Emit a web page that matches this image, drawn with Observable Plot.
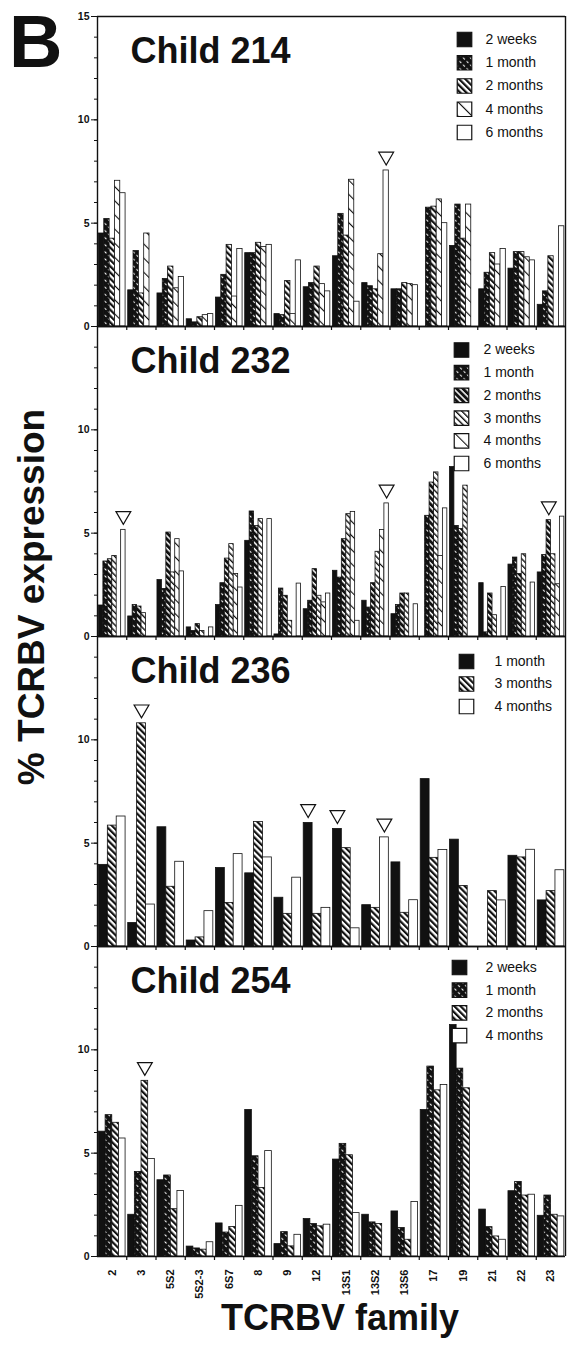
<!DOCTYPE html>
<html><head><meta charset="utf-8">
<script src="https://cdn.jsdelivr.net/npm/d3@7"></script>
<script src="https://cdn.jsdelivr.net/npm/@observablehq/plot@0.6"></script>
<style>
body{margin:0;background:#fff;}
#wrap{position:relative;width:568px;height:1345px;overflow:hidden;font-family:"Liberation Sans",Arial,Helvetica,sans-serif;}
#chart{position:absolute;left:0;top:0;}
.ov{position:absolute;white-space:nowrap;font-weight:bold;line-height:1;color:#111;}
</style></head><body>
<svg width="0" height="0" style="position:absolute">
<defs>
<pattern id="pDash" patternUnits="userSpaceOnUse" width="5" height="5" patternTransform="rotate(-45)">
<rect width="5" height="5" fill="#111"/><rect x="2" y="0.5" width="1.1" height="2.4" fill="#fff"/>
</pattern>
<pattern id="pStripe" patternUnits="userSpaceOnUse" width="4.4" height="4.4" patternTransform="rotate(-45)">
<rect width="4.4" height="4.4" fill="#fff"/><rect width="2.2" height="4.4" fill="#111"/>
</pattern>
<pattern id="pStripeDark" patternUnits="userSpaceOnUse" width="4.4" height="4.4" patternTransform="rotate(-45)">
<rect width="4.4" height="4.4" fill="#fff"/><rect width="2.9" height="4.4" fill="#111"/>
</pattern>
<pattern id="pStripeLight" patternUnits="userSpaceOnUse" width="4.4" height="4.4" patternTransform="rotate(-45)">
<rect width="4.4" height="4.4" fill="#fff"/><rect width="1.4" height="4.4" fill="#111"/>
</pattern>
<pattern id="pLine" patternUnits="userSpaceOnUse" width="10" height="10" patternTransform="rotate(-45)">
<rect width="10" height="10" fill="#fff"/><rect width="1.1" height="10" fill="#111"/>
</pattern>
</defs></svg>
<div id="wrap">
<div id="chart"></div>
<div class="ov" style="left:9px;top:5px;font-size:74px">B</div>
<div class="ov" style="left:0;top:0;font-size:37px;transform-origin:0 0;transform:translate(12.7px,597px) rotate(-90deg) translate(-50%,0)">% TCRBV expression</div>
<div class="ov" style="left:340px;top:1300px;font-size:36px;transform:translateX(-50%)">TCRBV family</div>
</div>
<script>
const families = ["2","3","5S2","5S2-3","6S7","8","9","12","13S1","13S2","13S6","17","19","21","22","23"];
const panels = ["214","232","236","254"];

// Child 214
const series214 = ["2 weeks","1 month","2 months","4 months","6 months"];
const c214_2wk = [4.5,1.75,1.6,0.35,1.4,3.55,0.6,1.9,3.4,2.1,1.8,null,3.9,1.8,2.8,1.05];
const c214_1mo = [5.2,3.65,2.3,0.2,2.5,3.55,0.55,2.1,5.45,1.95,1.8,5.75,5.9,2.6,3.6,1.7];
const c214_2mo = [4.25,1.6,2.9,0.45,3.95,4.05,2.2,2.9,4.4,1.8,2.1,5.8,4.25,3.55,3.6,3.4];
const c214_4mo = [7.05,4.5,1.85,0.55,1.45,3.85,0.6,2.05,7.1,3.5,2.05,6.15,5.9,3.0,3.35,null];
const c214_6mo = [6.45,null,2.4,0.6,3.75,3.95,3.2,1.7,1.2,7.55,2.0,5.0,null,3.75,3.2,4.85];

// Child 232
const series232 = ["2 weeks","1 month","2 months","3 months","4 months","6 months"];
const c232_2wk = [1.5,0.97,2.73,0.44,1.52,4.63,0.1,1.32,3.18,1.73,1.08,null,8.2,2.58,3.48,3.1];
const c232_1mo = [3.63,1.52,2.3,0.27,2.58,6.05,2.32,1.73,2.85,1.4,1.52,5.84,5.35,0.2,3.82,3.94];
const c232_2mo = [3.74,1.45,5.03,0.6,3.77,5.35,1.97,3.26,4.71,2.58,2.08,7.45,5.2,2.08,3.02,5.63];
const c232_3mo = [3.9,1.13,3.1,0.27,4.47,5.68,0.76,1.97,5.92,4.1,2.08,7.94,7.3,1.03,3.98,3.98];
const c232_4mo = [null,null,4.71,null,3.02,null,null,1.65,6.03,5.15,null,3.9,null,null,null,2.53];
const c232_6mo = [5.16,null,3.15,0.44,2.37,5.68,2.56,2.08,0.76,6.44,1.56,6.2,null,2.4,2.61,5.8];

// Child 236
const series236 = ["1 month","3 months","4 months"];
const c236_1mo = [3.95,1.14,5.77,0.29,3.8,3.54,2.36,5.98,5.69,2.0,4.07,8.1,5.17,null,4.39,2.23];
const c236_3mo = [5.85,10.8,2.89,0.44,2.11,6.02,1.58,1.58,4.76,1.87,1.63,4.29,2.93,2.68,4.31,2.68];
const c236_4mo = [6.29,2.03,4.1,1.71,4.47,4.31,3.33,1.87,0.88,5.28,2.24,4.67,null,2.23,4.68,3.69];

// Child 254
const series254 = ["2 weeks","1 month","2 months","4 months"];
const c254_2wk = [6.04,2.02,3.69,0.48,1.6,7.09,0.6,1.81,4.69,2.02,2.18,7.09,11.2,2.27,3.16,1.97];
const c254_1mo = [6.84,4.09,3.92,0.39,1.16,4.85,1.18,1.57,5.45,1.65,1.38,9.19,9.09,1.42,3.61,2.95];
const c254_2mo = [6.47,8.5,2.29,0.33,1.43,3.32,0.49,1.46,4.9,1.57,0.81,8.04,8.14,0.97,2.95,2.02];
const c254_4mo = [5.71,4.72,3.17,0.69,2.45,5.1,1.05,1.54,2.1,null,2.64,8.3,null,0.81,2.99,1.94];

// Flagged expansions (triangles): [child, family, series]
const flagged = [
  ["214","13S2","6 months"],
  ["232","2","6 months"],["232","13S2","6 months"],["232","23","2 months"],
  ["236","3","3 months"],["236","12","1 month"],["236","13S1","1 month"],["236","13S2","4 months"],
  ["254","3","2 months"]
];

// Fill styles per child (same order as series)
const fills214 = ["#111","url(#pDash)","url(#pStripe)","url(#pLine)","#fff"];
const fills232 = ["#111","url(#pDash)","url(#pStripeDark)","url(#pStripeLight)","url(#pLine)","#fff"];
const fills236 = ["#111","url(#pStripe)","#fff"];
const fills254 = ["#111","url(#pDash)","url(#pStripe)","#fff"];

const panelDefs = [
  {panel:"214", series:series214, values:[c214_2wk,c214_1mo,c214_2mo,c214_4mo,c214_6mo], fills:fills214,
   legend:{sx:367, tx:388, y0:23, step:23.25}},
  {panel:"232", series:series232, values:[c232_2wk,c232_1mo,c232_2mo,c232_3mo,c232_4mo,c232_6mo], fills:fills232,
   legend:{sx:364, tx:386, y0:23.5, step:22.7}},
  {panel:"236", series:series236, values:[c236_1mo,c236_3mo,c236_4mo], fills:fills236,
   legend:{sx:369, tx:397, y0:25, step:22.5}},
  {panel:"254", series:series254, values:[c254_2wk,c254_1mo,c254_2mo,c254_4mo], fills:fills254,
   legend:{sx:362, tx:388, y0:21, step:22.7}}
];

const lo = 0.05, hi = 0.96; // occupied fraction of each family band
const rows = [];
for (const p of panelDefs) {
  const n = p.series.length;
  p.series.forEach((s, k) => {
    p.values[k].forEach((v, fi) => {
      if (v == null) return;
      rows.push({panel:p.panel, family:families[fi], fi, k, n, series:s, value:v, fill:p.fills[k]});
    });
  });
}
const slotX1 = d => d.fi + lo + d.k * (hi - lo) / d.n;
const slotX2 = d => d.fi + lo + (d.k + 1) * (hi - lo) / d.n;
const flagRows = flagged.map(([panel, fam, s]) => rows.find(r => r.panel === panel && r.family === fam && r.series === s));

const legendMarks = [];
for (const p of panelDefs) {
  p.series.forEach((s, k) => {
    const item = [{panel:p.panel, series:s, fill:p.fills[k]}];
    const dy = p.legend.y0 + k * p.legend.step;
    legendMarks.push(Plot.dot(item, {fy:"panel", frameAnchor:"top-left", dx:p.legend.sx, dy, symbol:"square", r:8.2,
      fill:"fill", stroke:"#111", strokeWidth:1.2}));
    legendMarks.push(Plot.text(item, {fy:"panel", frameAnchor:"top-left", dx:p.legend.tx, dy, text:"series",
      textAnchor:"start", lineAnchor:"middle", fontSize:14, fontWeight:"normal", fill:"#111"}));
  });
}

const chart = Plot.plot({
  width: 568, height: 1345,
  marginLeft: 97, marginRight: 3, marginTop: 14, marginBottom: 88,
  style: {fontFamily: '"Liberation Sans", Arial, Helvetica, sans-serif', fontSize: "10.5px", fontWeight: "bold", color: "#111"},
  x: {domain: [0, 16]},
  y: {domain: [0, 15]},
  fy: {domain: panels, padding: 0, axis: null},
  color: {type: "identity"},
  marks: [
    Plot.rectY(rows, {fy:"panel", x1:slotX1, x2:slotX2, y:"value", fill:"fill", stroke:"#111", strokeWidth:0.8}),
    Plot.dot(flagRows, {fy:"panel", x:d => (slotX1(d) + slotX2(d)) / 2, y:"value", dy:-14, symbol:"triangle", rotate:180,
      r:5.5, fill:"#fff", stroke:"#111", strokeWidth:1.2}),
    Plot.ruleY([0], {stroke:"#111", strokeWidth:1.4}),
    Plot.ruleY([15], {stroke:"#111", strokeWidth:1.4}),
    Plot.ruleX([0], {stroke:"#111", strokeWidth:1.4}),
    Plot.ruleX([16], {stroke:"#111", strokeWidth:1.4}),
    Plot.ruleX(d3.range(1, 16), {y1:0, y2:0, insetBottom:-4, stroke:"#111", strokeWidth:1.2}),
    Plot.axisY([0, 5, 10], {anchor:"left", tickSize:6, tickPadding:2, label:null, fontSize:10.5}),
    Plot.axisY([15], {anchor:"left", tickSize:6, tickPadding:2, label:null, fontSize:10.5, facetAnchor:"top"}),
    Plot.axisY(d3.range(0, 16), {anchor:"left", tickSize:3, tickFormat:() => "", label:null}),
    Plot.axisX(d3.range(16).map(i => i + 0.5), {anchor:"bottom", tickSize:0, tickPadding:13, tickRotate:-90,
      tickFormat:v => families[Math.floor(v)], label:null, fontSize:11}),
    Plot.text(panels, {fy:d => d, text:d => "Child " + d, frameAnchor:"top-left", dx:33, dy:21,
      lineAnchor:"top", textAnchor:"start", fontSize:36, fontWeight:"bold", fill:"#111"}),
    ...legendMarks
  ]
});
document.getElementById("chart").appendChild(chart);
</script>
</body></html>
